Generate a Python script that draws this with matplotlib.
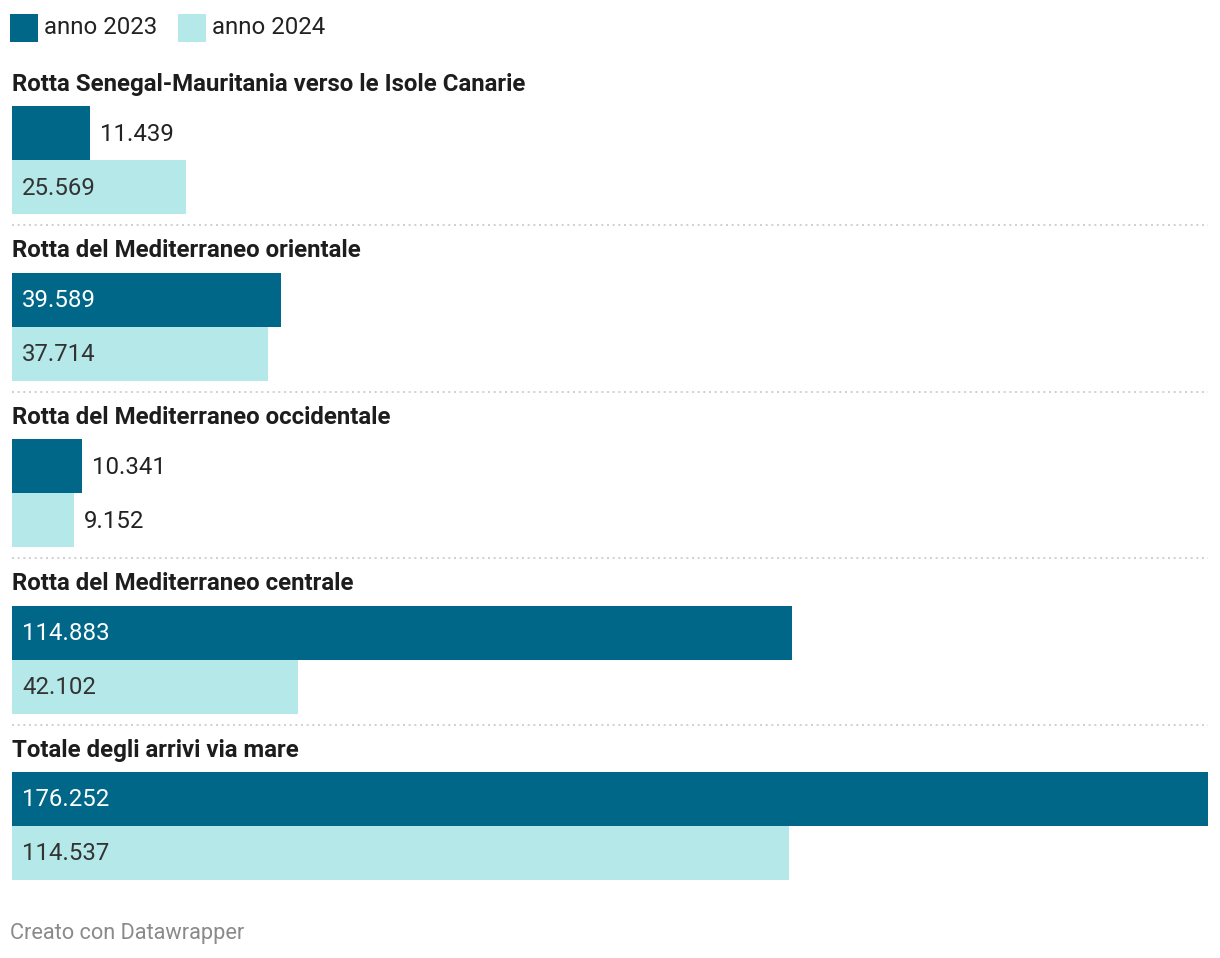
import matplotlib
matplotlib.use("Agg")
import matplotlib.pyplot as plt
from matplotlib.patches import Rectangle

plt.rcParams['font.family'] = ['Roboto', 'DejaVu Sans']

categories = [
    "Rotta Senegal-Mauritania verso le Isole Canarie",
    "Rotta del Mediterraneo orientale",
    "Rotta del Mediterraneo occidentale",
    "Rotta del Mediterraneo centrale",
    "Totale degli arrivi via mare",
]
series_names = ["anno 2023", "anno 2024"]
values_2023 = [11439, 39589, 10341, 114883, 176252]
values_2024 = [25569, 37714, 9152, 42102, 114537]

C_DARK = "#006789"
C_LIGHT = "#b5e9e9"

W, H = 1220, 958
DPI = 100
fig = plt.figure(figsize=(W / DPI, H / DPI), dpi=DPI)
fig.patch.set_facecolor("white")

# background axes in pixel coordinates for legend / footer
bg = fig.add_axes([0, 0, 1, 1])
bg.set_xlim(0, W)
bg.set_ylim(H, 0)
bg.axis("off")

x0, x1 = 12, 1208
ax = fig.add_axes([x0 / W, 0, (x1 - x0) / W, 1])
xmax = max(values_2023 + values_2024)
ax.set_xlim(0, xmax)
ax.set_ylim(H, 0)
ax.axis("off")

px_per_unit = (x1 - x0) / xmax

fs = 17.3
# legend
for i, (name, col) in enumerate(zip(series_names, [C_DARK, C_LIGHT])):
    lx = [10, 178][i]
    bg.add_patch(Rectangle((lx, 14), 28, 28, color=col, lw=0))
    bg.text(lx + 34, 27.5, name, fontsize=fs, color="#222222", va="center", ha="left")

pitch = 166.5
bar_h = 54
for i, cat in enumerate(categories):
    top = 84 + i * pitch
    bg.text(12, top, cat, fontsize=fs, fontweight="bold", color="#1d1d1d",
            va="center", ha="left")
    y1 = 106 + i * pitch
    for j, (vals, col, tcol) in enumerate([(values_2023, C_DARK, "white"),
                                           (values_2024, C_LIGHT, "#333333")]):
        v = vals[i]
        yb = y1 + j * bar_h
        ax.barh(yb + bar_h / 2, v, height=bar_h, left=0, color=col, lw=0)
        label = f"{v:,}".replace(",", ".")
        width_px = v * px_per_unit
        if width_px > 110:
            ax.text(10 / px_per_unit, yb + bar_h / 2 + 1, label, color=tcol,
                    fontsize=fs, va="center", ha="left")
        else:
            ax.text(v + 10 / px_per_unit, yb + bar_h / 2 + 1, label, color="#222222",
                    fontsize=fs, va="center", ha="left")
    if i < len(categories) - 1:
        sy = y1 + 2 * bar_h + 11
        bg.plot([12, 1208], [sy, sy], color="#c8c8c8", lw=1.2,
                linestyle=(0, (1.2, 2.2)))

bg.text(10, 934, "Creato con Datawrapper", fontsize=15.7, color="#8a8a8a",
        va="center", ha="left")

fig.savefig("out.png", dpi=DPI, facecolor="white")
